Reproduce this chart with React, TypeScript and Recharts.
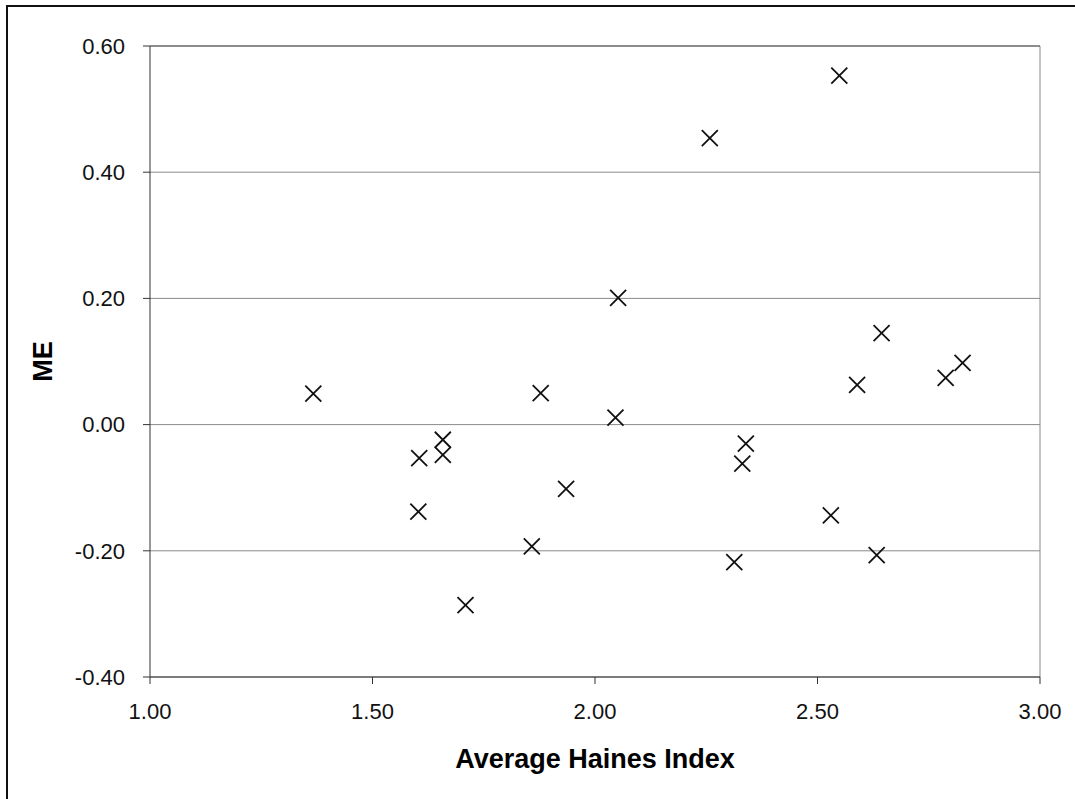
import { CartesianGrid, Label, ReferenceLine, Scatter, ScatterChart, XAxis, YAxis } from 'recharts';

const haines = [
  1.367, 1.603, 1.605, 1.658, 1.658, 1.709, 1.858, 1.878, 1.935, 2.046, 2.052,
  2.258, 2.313, 2.331, 2.339, 2.53, 2.549, 2.589, 2.633, 2.644, 2.788, 2.826,
];
const me = [
  0.049, -0.138, -0.053, -0.024, -0.048, -0.286, -0.193, 0.05, -0.102, 0.011, 0.201,
  0.454, -0.218, -0.062, -0.03, -0.144, 0.553, 0.063, -0.207, 0.145, 0.074, 0.098,
];
const xTicks = [1, 1.5, 2, 2.5, 3];
const yTicks = [-0.4, -0.2, 0, 0.2, 0.4, 0.6];

const points = haines.map((h, i) => ({ haines: h, me: me[i] }));

const FONT = '"Liberation Sans", Arial, sans-serif';
const tickStyle = { fill: '#111', fontSize: 22, fontFamily: FONT };

function Cross(props: any) {
  const { cx, cy } = props;
  const r = 8;
  return (
    <path
      d={`M${cx - r},${cy - r}L${cx + r},${cy + r}M${cx + r},${cy - r}L${cx - r},${cy + r}`}
      stroke="#111"
      strokeWidth={1.8}
      fill="none"
    />
  );
}

export default function App() {
  return (
    <div style={{ position: 'absolute', left: 0, top: 0, width: 1075, height: 799, background: '#fff', overflow: 'hidden' }}>
      <div
        style={{
          position: 'absolute',
          left: 6,
          top: 5,
          width: 1100,
          height: 820,
          borderLeft: '2px solid #111',
          borderTop: '2px solid #111',
        }}
      />
      <ScatterChart width={1075} height={799} margin={{ top: 46, right: 35, bottom: 0, left: 0 }}>
        <CartesianGrid horizontal vertical={false} stroke="#8a8a8a" strokeWidth={1} />
        <XAxis
          type="number"
          dataKey="haines"
          domain={[1, 3]}
          ticks={xTicks}
          tickFormatter={(v: number) => v.toFixed(2)}
          height={122}
          tickSize={7}
          tickMargin={19}
          tick={tickStyle}
          stroke="#333"
          allowDataOverflow
        >
          <Label
            value="Average Haines Index"
            position="insideBottom"
            offset={31}
            style={{ fill: '#000', fontSize: 27, fontWeight: 700, fontFamily: FONT }}
          />
        </XAxis>
        <YAxis
          type="number"
          dataKey="me"
          domain={[-0.4, 0.6]}
          ticks={yTicks}
          tickFormatter={(v: number) => v.toFixed(2)}
          width={150}
          tickSize={7}
          tickMargin={18}
          tick={tickStyle}
          stroke="#333"
          allowDataOverflow
        >
          <Label
            value="ME"
            angle={-90}
            position="insideLeft"
            offset={42}
            style={{ fill: '#000', fontSize: 27, fontWeight: 700, fontFamily: FONT, textAnchor: 'middle' }}
          />
        </YAxis>
        <ReferenceLine x={3} stroke="#8a8a8a" strokeWidth={1} />
        <ReferenceLine y={0.6} stroke="#555" strokeWidth={1} />
        <Scatter data={points} shape={Cross} isAnimationActive={false} />
      </ScatterChart>
    </div>
  );
}
